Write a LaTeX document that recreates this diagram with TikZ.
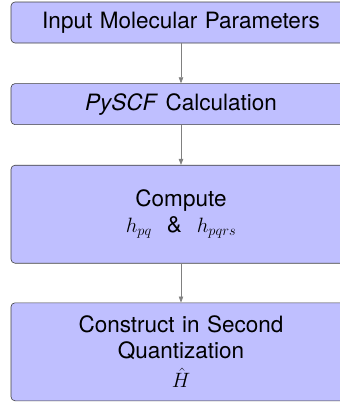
\documentclass[tikz,border=0pt]{standalone}
\usepackage{fontspec}
\setmainfont{TeX Gyre Heros}
\usetikzlibrary{positioning, arrows.meta}
\definecolor{boxfill}{RGB}{191,191,255}

\begin{document}
\begin{tikzpicture}[x=1pt, y=1pt,
    node distance=40pt,
    stepbox/.style={draw=black!75, fill=boxfill, line width=0.6pt, rounded corners=4pt,
        minimum width=340pt, text width=320pt, align=center,
        font=\fontsize{22.5}{25.5}\selectfont},
    flow/.style={draw=gray, line width=0.6pt, -{Triangle[length=6pt,width=4.5pt]}}]
    % Fix the canvas
    \useasboundingbox (0,0) rectangle (340,-405);
    \clip (0,0) rectangle (340,-405);

    % Boxes of the workflow
    \node[stepbox, minimum height=41pt] (input) at (181,-22.5) {Input Molecular Parameters};
    \node[stepbox, minimum height=41pt, below=of input] (pyscf) {\textit{PySCF} Calculation};
    \node[stepbox, minimum height=98pt, below=of pyscf] (compute) {Compute\\ $h_{pq}$ \ \& \ $h_{pqrs}$};
    \node[stepbox, minimum height=98pt, below=39pt of compute] (construct) {Construct in Second\\ Quantization\\[4pt] $\hat{H}$};

    % Arrows between the boxes
    \foreach \a/\b in {input/pyscf, pyscf/compute, compute/construct} {
        \draw[flow] (\a) -- (\b);
    }
\end{tikzpicture}
\end{document}
